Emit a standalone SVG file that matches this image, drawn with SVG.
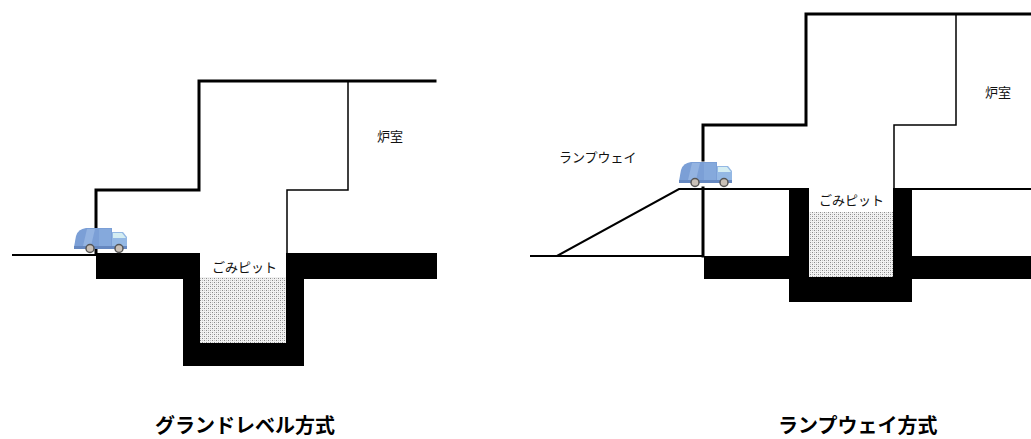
<svg xmlns="http://www.w3.org/2000/svg" width="1031" height="439" viewBox="0 0 1031 439">
  <style>
    .thick { fill: none; stroke: #000; stroke-width: 3; stroke-linecap: square; }
    .thin { fill: none; stroke: #000; stroke-width: 1.5; }
    .ground { fill: none; stroke: #000; stroke-width: 2; }
    .solid { fill: #000; }
    .label { font-family: "Noto Sans CJK JP", "Noto Sans", sans-serif; font-size: 13px; fill: #111; }
    .title { font-family: "Noto Sans CJK JP", "Noto Sans", sans-serif; font-size: 20px; font-weight: bold; fill: #000; }
  </style>
  <defs>
    <!-- dotted fill for the waste stored in the pit -->
    <pattern id="stipple" width="4" height="4" patternUnits="userSpaceOnUse">
      <rect width="4" height="4" fill="#f2f2f2"/>
      <rect x="0" y="0" width="1" height="1" fill="#8a8a8a"/>
      <rect x="2" y="2" width="1" height="1" fill="#8a8a8a"/>
      <rect x="2" y="0" width="1" height="1" fill="#c4c4c4"/>
      <rect x="0" y="2" width="1" height="1" fill="#c4c4c4"/>
    </pattern>
    <!-- garbage truck, 55 x 26 -->
    <g id="truck">
      <path d="M1,20 L3,9 Q5,2 13,1 L39,1 L39,20 Z" fill="#7b9fd6"/>
      <path d="M14,2 L22,2 L18,19 L10,19 Z" fill="#9ab8e3" opacity="0.8"/>
      <path d="M26,2 L38,2 L38,19 L26,19 Z" fill="#8aaede" opacity="0.7"/>
      <path d="M39,5 L50,5 L54,10 L54,20 L39,20 Z" fill="#94b8e4"/>
      <path d="M40,6 L49,6 L53,11 L40,11 Z" fill="#d4edf2"/>
      <rect x="1" y="19" width="53" height="3" fill="#6688c0"/>
      <circle cx="17" cy="21.5" r="4" fill="#c9c0b7" stroke="#555" stroke-width="1.5"/>
      <circle cx="46" cy="21.5" r="4" fill="#c9c0b7" stroke="#555" stroke-width="1.5"/>
    </g>
  </defs>

  <!-- Grand level type -->
  <g id="ground-level-building">
    <path class="thick" d="M96,253 L96,190 L199,190 L199,81 L435,81"/>
    <path class="thin" d="M348,81 L348,190 L287,190 L287,253"/>
    <line class="ground" x1="12" y1="255" x2="96" y2="255"/>
  </g>
  <g id="ground-level-pit">
    <rect x="200" y="277" width="86" height="66" fill="url(#stipple)"/>
    <path class="solid" d="M96,253 L200,253 L200,343 L286,343 L286,253 L437,253 L437,279 L304,279 L304,366 L183,366 L183,279 L96,279 Z"/>
    <text class="label" x="212" y="272">ごみピット</text>
  </g>
  <g id="ground-level-furnace">
    <text class="label" x="377" y="141" font-size="15">炉室</text>
  </g>
  <g id="ground-level-truck">
    <use href="#truck" x="73" y="227"/>
  </g>
  <text class="title" x="155" y="433">グランドレベル方式</text>

  <!-- Ramp way type -->
  <g id="rampway-building">
    <path class="thick" d="M703,160 L703,125 L806,125 L806,14 L1031,14"/>
    <path class="thin" d="M956,14 L956,125 L894,125 L894,188"/>
    <line class="thick" x1="703" y1="188" x2="703" y2="256"/>
  </g>
  <g id="rampway-ramp">
    <path class="ground" d="M530,256 L704,256"/>
    <path class="ground" d="M557,256 L679,189 L790,189"/>
    <path class="ground" d="M911,189 L1031,189"/>
    <text class="label" x="559" y="162">ランプウェイ</text>
  </g>
  <g id="rampway-pit">
    <rect x="809" y="212" width="84" height="65" fill="url(#stipple)"/>
    <path class="solid" d="M789,188 L809,188 L809,277 L893,277 L893,188 L912,188 L912,256 L1031,256 L1031,279 L912,279 L912,302 L789,302 L789,279 L704,279 L704,256 L789,256 Z"/>
    <text class="label" x="819" y="205">ごみピット</text>
  </g>
  <g id="rampway-furnace">
    <text class="label" x="985" y="97" font-size="15">炉室</text>
  </g>
  <g id="rampway-truck">
    <use href="#truck" x="678" y="161"/>
  </g>
  <text class="title" x="778" y="433">ランプウェイ方式</text>
</svg>
